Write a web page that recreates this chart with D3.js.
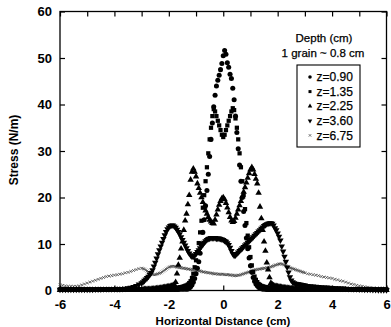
<!DOCTYPE html>
<html>
<head>
<meta charset="utf-8">
<script src="https://cdn.jsdelivr.net/npm/d3@7"></script>
<style>
  html, body { margin: 0; padding: 0; background: #fff; }
  svg { display: block; font-family: "Liberation Sans", Arial, Helvetica, sans-serif; }
</style>
</head>
<body>
<svg id="chart" width="391" height="327"></svg>
<script>
// Horizontal sampling positions (cm): 0.1 cm outside |x|<3, 0.05 cm inside
const xGrid = [];
for (let i = 0; i < 30; i++) xGrid.push(+(-6 + 0.1 * i).toFixed(2));
for (let k = 0; k <= 120; k++) xGrid.push(+(-3 + 0.05 * k).toFixed(2));
for (let j = 1; j <= 30; j++) xGrid.push(+(3 + 0.1 * j).toFixed(2));

// Stress (N/m) at each sampling position, one array per depth
const z090 = [
  0.2,0.2,0.2,0.2,0.2,0.2,0.2,0.2,0.2,0.2, 0.2,0.2,0.2,0.2,0.2,0.2,0.2,0.2,0.2,0.2, 0.2,0.2,0.2,0.2,0.2,0.2,0.2,0.2,0.2,0.2,
  0.2,0.2,0.2,0.2,0.2,0.2,0.2,0.2,0.2,0.2,
  0.2,0.2,0.2,0.2,0.2,0.2,0.2,0.2,0.2,0.2,
  0.2,0.2,0.2,0.2,0.2,0.2,0.2,0.2,0.3,0.3,
  0.3,0.3,0.3,0.3,0.3,0.5,0.8,1.2,1.8,2.6,
  3.6,4.8,6.2,8.0,10.0,12.5,15.2,18.2,21.5,25.0,
  28.8,32.5,36.0,39.5,42.0,44.0,45.2,46.3,47.5,48.8,
  50.5,51.6,50.8,49.0,48.0,46.5,45.6,43.5,41.0,37.5,
  34.0,30.5,27.0,23.5,20.0,17.0,14.0,11.3,9.0,7.0,
  5.3,3.9,2.8,2.0,1.4,1.0,0.7,0.5,0.4,0.3,
  0.3,0.3,0.2,0.2,0.2,0.2,0.2,0.2,0.2,0.2,
  0.2,0.2,0.2,0.2,0.2,0.2,0.2,0.2,0.2,0.2,
  0.2,0.2,0.2,0.2,0.2,0.2,0.2,0.2,0.2,0.2,
  0.2,
  0.2,0.2,0.2,0.2,0.2,0.2,0.2,0.2,0.2,0.2, 0.2,0.2,0.2,0.2,0.2,0.2,0.2,0.2,0.2,0.2, 0.2,0.2,0.2,0.2,0.2,0.2,0.2,0.2,0.2,0.2
];
const z135 = [
  0.2,0.2,0.2,0.2,0.2,0.2,0.2,0.2,0.2,0.2, 0.2,0.2,0.2,0.2,0.2,0.2,0.2,0.2,0.2,0.2, 0.2,0.2,0.2,0.2,0.2,0.2,0.2,0.2,0.2,0.2,
  0.2,0.2,0.2,0.2,0.2,0.2,0.2,0.2,0.2,0.2,
  0.2,0.2,0.2,0.2,0.2,0.2,0.2,0.3,0.3,0.3,
  0.35,0.35,0.4,0.4,0.5,0.5,0.55,0.6,0.7,0.7,
  0.8,0.9,1.0,1.1,1.3,1.6,2.0,2.7,3.6,5.0,
  6.5,8.2,10.2,12.5,15.0,17.8,20.5,23.5,26.5,29.5,
  32.5,35.0,37.5,39.0,38.5,37.5,36.5,35.5,34.5,33.5,
  33.0,33.5,34.5,35.5,36.5,37.5,38.5,39.2,38.8,37.0,
  35.0,32.5,29.5,26.5,23.5,20.5,17.5,14.5,11.8,9.3,
  7.2,5.4,4.0,3.0,2.3,1.8,1.4,1.2,1.0,0.9,
  0.8,0.75,0.7,0.65,0.6,0.55,0.5,0.5,0.45,0.45,
  0.4,0.4,0.35,0.35,0.3,0.3,0.3,0.3,0.25,0.25,
  0.2,0.2,0.2,0.2,0.2,0.2,0.2,0.2,0.2,0.2,
  0.2,
  0.2,0.2,0.2,0.2,0.2,0.2,0.2,0.2,0.2,0.2, 0.2,0.2,0.2,0.2,0.2,0.2,0.2,0.2,0.2,0.2, 0.2,0.2,0.2,0.2,0.2,0.2,0.2,0.2,0.2,0.2
];
const z225 = [
  0.1,0.1,0.1,0.1,0.1,0.1,0.1,0.1,0.1,0.1, 0.1,0.1,0.1,0.1,0.1,0.1,0.1,0.1,0.1,0.1, 0.15,0.15,0.15,0.15,0.15,0.2,0.2,0.2,0.2,0.2,
  0.2,0.2,0.25,0.25,0.3,0.3,0.3,0.35,0.35,0.4,
  0.4,0.45,0.5,0.5,0.55,0.6,0.65,0.7,0.75,0.8,
  0.85,0.9,1.0,1.1,1.3,1.8,3.6,5.5,7.0,9.0,
  10.5,13.0,15.0,16.5,18.5,20.5,23.8,25.5,26.2,25.5,
  24.5,23.0,22.0,21.0,20.0,19.0,18.0,17.2,16.5,15.8,
  15.2,14.8,14.5,14.4,15.2,16.3,17.4,18.4,19.2,19.8,
  20.0,19.6,18.8,17.8,16.8,15.8,15.0,14.7,14.9,15.6,
  16.5,17.4,18.3,19.2,20.2,21.2,22.2,23.2,24.2,25.2,
  26.0,26.5,26.0,25.0,24.0,23.0,21.0,18.0,15.5,13.0,
  10.5,8.5,6.0,4.5,2.8,1.6,1.3,1.1,1.0,0.9,
  0.85,0.8,0.75,0.7,0.65,0.6,0.6,0.55,0.5,0.5,
  0.45,0.45,0.4,0.4,0.4,0.35,0.35,0.35,0.3,0.3,
  0.3,
  0.3,0.25,0.25,0.25,0.2,0.2,0.2,0.2,0.2,0.2, 0.15,0.15,0.15,0.15,0.15,0.1,0.1,0.1,0.1,0.1, 0.1,0.1,0.1,0.1,0.1,0.1,0.1,0.1,0.1,0.1
];
const z360 = [
  0.2,0.2,0.2,0.2,0.2,0.2,0.2,0.2,0.2,0.2, 0.2,0.2,0.2,0.25,0.25,0.25,0.3,0.3,0.3,0.3, 0.3,0.3,0.3,0.35,0.4,0.5,0.6,0.8,1.0,1.3,
  1.6,1.8,2.1,2.4,2.7,3.0,3.4,3.8,4.4,5.2,
  6.0,6.9,7.8,8.7,9.5,10.3,11.1,11.9,12.6,13.2,
  13.6,13.9,14.0,14.0,13.8,13.5,13.1,12.6,12.1,11.5,
  10.9,10.3,9.7,9.1,8.5,8.0,7.6,7.3,7.3,7.5,
  7.9,8.3,8.7,9.1,9.5,9.9,10.3,10.6,10.9,11.1,
  11.2,11.3,11.3,11.3,11.3,11.2,11.2,11.2,11.1,11.0,
  10.9,10.7,10.5,10.2,9.8,9.2,8.5,7.9,7.5,7.6,
  7.9,8.2,8.5,8.8,9.1,9.4,9.7,10.0,10.3,10.6,
  10.9,11.2,11.5,11.8,12.1,12.4,12.7,13.0,13.3,13.6,
  13.9,14.1,14.3,14.4,14.5,14.5,14.4,14.0,13.4,13.0,
  12.3,11.6,10.8,9.5,8.4,7.3,6.2,5.0,3.9,2.9,
  2.2,1.8,1.6,1.5,1.4,1.35,1.3,1.25,1.2,1.15,
  1.1,
  1.0,0.95,0.9,0.85,0.8,0.75,0.7,0.65,0.6,0.55, 0.5,0.5,0.45,0.45,0.4,0.35,0.35,0.3,0.3,0.25, 0.25,0.2,0.2,0.2,0.15,0.15,0.1,0.1,0.1,0.1
];
const z675 = [
  1.3,1.1,1.0,0.9,0.9,0.9,0.9,1.0,1.2,1.4, 1.6,1.8,2.0,2.2,2.4,2.6,2.8,3.0,3.1,3.2, 3.3,3.4,3.5,3.6,3.8,3.9,4.1,4.3,4.5,4.7,
  4.8,4.7,4.6,4.4,4.2,4.0,3.8,3.6,3.5,3.4,
  3.4,3.5,3.6,3.7,3.8,4.0,4.2,4.4,4.6,4.8,
  5.0,5.1,5.2,5.2,5.2,5.1,5.0,5.0,4.9,4.9,
  4.8,4.8,4.7,4.7,4.6,4.6,4.5,4.5,4.4,4.4,
  4.3,4.3,4.2,4.2,4.1,4.0,4.0,3.9,3.9,3.8,
  3.8,3.7,3.7,3.6,3.6,3.6,3.5,3.5,3.5,3.5,
  3.5,3.4,3.4,3.4,3.4,3.3,3.3,3.3,3.2,3.2,
  3.2,3.3,3.3,3.4,3.5,3.6,3.7,3.8,3.9,4.0,
  4.1,4.2,4.3,4.4,4.5,4.5,4.6,4.6,4.7,4.7,
  4.8,4.8,4.9,4.9,5.0,5.1,5.2,5.3,5.4,5.5,
  5.6,5.7,5.75,5.7,5.6,5.5,5.3,5.2,5.0,4.9,
  4.8,4.7,4.6,4.5,4.4,4.3,4.2,4.1,4.0,3.9,
  3.8,
  3.6,3.5,3.4,3.3,3.2,3.0,2.9,2.8,2.7,2.6, 2.4,2.3,2.1,2.0,1.8,1.6,1.4,1.3,1.1,1.0, 0.9,0.8,0.7,0.6,0.5,0.4,0.3,0.2,0.1,0.1
];

const seriesNames = ["z=0.90", "z=1.35", "z=2.25", "z=3.60", "z=6.75"];
const xTickValues = [-6, -4, -2, 0, 2, 4, 6];
const xMinorTicks = [-6, -5, -4, -3, -2, -1, 0, 1, 2, 3, 4, 5, 6];
const yTickValues = [0, 10, 20, 30, 40, 50, 60];
const legendTitle = ["Depth (cm)", "1 grain ~ 0.8 cm"];

const svg = d3.select("#chart");
const x = d3.scaleLinear().domain([-6, 6]).range([60, 386.5]);
const y = d3.scaleLinear().domain([0, 60]).range([290.5, 11.5]);

// marker shapes per depth
const tri = d3.symbol().type(d3.symbolTriangle).size(18)();
const shapes = [
  { path: d3.symbol().type(d3.symbolCircle).size(20)(), fill: "#000", stroke: "none", rot: 0 },
  { path: d3.symbol().type(d3.symbolSquare).size(18)(), fill: "#000", stroke: "none", rot: 0 },
  { path: tri, fill: "#000", stroke: "none", rot: 0 },
  { path: tri, fill: "#000", stroke: "none", rot: 180 },
  { path: d3.symbol().type(d3.symbolTimes || d3.symbolX).size(6)(), fill: "none", stroke: "#444", rot: 0 }
];
const seriesValues = [z090, z135, z225, z360, z675];

// plot frame
svg.append("rect")
  .attr("x", x(-6)).attr("y", y(60))
  .attr("width", x(6) - x(-6)).attr("height", y(0) - y(60))
  .attr("fill", "none").attr("stroke", "#000").attr("stroke-width", 1.3);

// data markers; the deepest layer sits underneath
const drawOrder = [4, 3, 2, 1, 0];
drawOrder.forEach(si => {
  const s = shapes[si];
  const pts = xGrid.map((xv, i) => [xv, seriesValues[si][i]]).filter(d => d[1] !== undefined);
  svg.append("g").attr("class", "series-" + si)
    .selectAll("path").data(pts).join("path")
    .attr("d", s.path)
    .attr("transform", d => `translate(${x(d[0])},${y(d[1])})` + (s.rot ? ` rotate(${s.rot})` : ""))
    .attr("fill", s.fill)
    .attr("stroke", s.stroke)
    .attr("stroke-width", si === 4 ? 0.8 : 0);
});

// axes with inward ticks
const axisStyle = g => {
  g.select(".domain").remove();
  g.selectAll(".tick line").attr("stroke", "#000").attr("stroke-width", 1.2);
  g.selectAll("text").attr("fill", "#000").attr("font-size", "13px").attr("font-weight", "bold");
};
svg.append("g").attr("transform", `translate(0,${y(0)})`)
  .call(d3.axisBottom(x).tickValues(xTickValues).tickSize(-5).tickPadding(9)
    .tickFormat(d => d < 0 ? "-" + Math.abs(d) : String(d)))
  .call(axisStyle);
svg.append("g").attr("transform", `translate(0,${y(60)})`)
  .call(d3.axisTop(x).tickValues(xMinorTicks).tickSize(-5).tickFormat(""))
  .call(axisStyle);
svg.append("g").attr("transform", `translate(${x(-6)},0)`)
  .call(d3.axisLeft(y).tickValues(yTickValues).tickSize(-5).tickPadding(8))
  .call(axisStyle);
svg.append("g").attr("transform", `translate(${x(6)},0)`)
  .call(d3.axisRight(y).tickValues(yTickValues).tickSize(-5).tickFormat(""))
  .call(axisStyle);

// axis titles
svg.append("text")
  .attr("x", 223).attr("y", 324.5)
  .attr("text-anchor", "middle").attr("font-size", "11.5px").attr("font-weight", "bold")
  .text("Horizontal Distance (cm)");
svg.append("text")
  .attr("transform", "translate(17.5,150) rotate(-90)")
  .attr("text-anchor", "middle").attr("font-size", "12px").attr("font-weight", "bold")
  .text("Stress (N/m)");

// legend
svg.append("text").attr("x", 324).attr("y", 42).attr("text-anchor", "middle")
  .attr("font-size", "11.5px").attr("stroke", "#000").attr("stroke-width", 0.25).text(legendTitle[0]);
svg.append("text").attr("x", 323).attr("y", 57).attr("text-anchor", "middle")
  .attr("font-size", "11.5px").attr("stroke", "#000").attr("stroke-width", 0.25).text(legendTitle[1]);
svg.append("rect").attr("x", 297).attr("y", 65).attr("width", 63).attr("height", 82)
  .attr("fill", "#fff").attr("stroke", "#000").attr("stroke-width", 1.1);
const legendSymbols = [
  { path: d3.symbol().type(d3.symbolCircle).size(10)(), fill: "#000", stroke: "none", rot: 0 },
  { path: d3.symbol().type(d3.symbolSquare).size(9)(), fill: "#000", stroke: "none", rot: 0 },
  { path: d3.symbol().type(d3.symbolTriangle).size(9)(), fill: "#000", stroke: "none", rot: 0 },
  { path: d3.symbol().type(d3.symbolTriangle).size(9)(), fill: "#000", stroke: "none", rot: 180 },
  { path: d3.symbol().type(d3.symbolTimes || d3.symbolX).size(5)(), fill: "none", stroke: "#555", rot: 0 }
];
seriesNames.forEach((name, i) => {
  const ly = 77 + i * 14.6;
  const s = legendSymbols[i];
  svg.append("path").attr("d", s.path)
    .attr("transform", `translate(310,${ly})` + (s.rot ? ` rotate(${s.rot})` : ""))
    .attr("fill", s.fill).attr("stroke", s.stroke).attr("stroke-width", 0.8);
  svg.append("text").attr("x", 316.5).attr("y", ly + 4.2)
    .attr("font-size", "12px").attr("stroke", "#000").attr("stroke-width", 0.25).text(name);
});
</script>
</body>
</html>
